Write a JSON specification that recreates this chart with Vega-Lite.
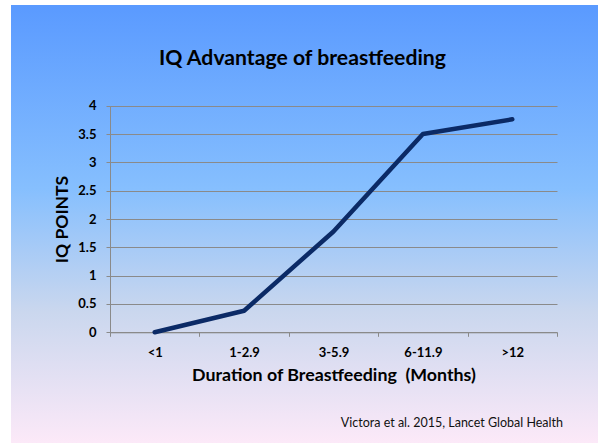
{
  "$schema": "https://vega.github.io/schema/vega-lite/v6.json",
  "width": 587,
  "height": 438,
  "autosize": "none",
  "padding": {"left": 11, "top": 5, "right": 0, "bottom": 0},
  "background": "#ffffff",
  "config": {
    "view": {
      "stroke": null,
      "fill": {
        "gradient": "linear", "x1": 0, "y1": 0, "x2": 0, "y2": 1,
        "stops": [
          {"offset": 0, "color": "#5a9aff"},
          {"offset": 0.42, "color": "#86bffe"},
          {"offset": 0.7, "color": "#cad7ee"},
          {"offset": 1, "color": "#fce9f8"}
        ]
      }
    }
  },
  "title": {
    "text": "IQ Advantage of breastfeeding",
    "font": "Lato",
    "fontSize": 21.2,
    "fontWeight": "bold",
    "color": "#000000",
    "anchor": "middle",
    "frame": "group",
    "baseline": "alphabetic",
    "offset": -82,
    "dx": -2
  },
  "data": {
    "values": [
      {"duration": "<1", "iq": 0},
      {"duration": "1-2.9", "iq": 0.38},
      {"duration": "3-5.9", "iq": 1.78},
      {"duration": "6-11.9", "iq": 3.5},
      {"duration": ">12", "iq": 3.76}
    ]
  },
  "layer": [
    {
      "data": {"values": [{}]},
      "mark": {"type": "rule", "x": 0, "y": 0, "y2": "height", "color": "#000000", "strokeWidth": 2.2},
      "encoding": {}
    },
    {
      "data": {"values": [{}]},
      "mark": {"type": "rule", "x": 0, "x2": "width", "y": 0, "color": "#000000", "strokeWidth": 2.4},
      "encoding": {}
    },
    {
      "data": {"values": [{}]},
      "mark": {
        "type": "text",
        "text": "Victora et al. 2015, Lancet Global Health",
        "x": "width",
        "y": "height",
        "dx": -35,
        "dy": -15.7,
        "align": "right",
        "baseline": "alphabetic",
        "font": "Lato",
        "fontSize": 12.5,
        "color": "#111111"
      },
      "encoding": {}
    },
    {
      "mark": {"type": "line", "color": "#0b2a66", "strokeWidth": 4.5, "strokeJoin": "round", "strokeCap": "round"},
      "encoding": {
        "x": {
          "field": "duration",
          "type": "ordinal",
          "sort": null,
          "scale": {"type": "band", "range": [99, 546], "paddingInner": 0, "paddingOuter": 0},
          "axis": {
            "title": "Duration of Breastfeeding\u00a0 (Months)",
            "offset": -110.7,
            "labelAngle": 0,
            "labelFont": "Lato",
            "labelFontSize": 13,
            "labelFontWeight": "bold",
            "labelColor": "#000000",
            "labelPadding": 10,
            "tickSize": 4,
            "tickBand": "extent",
            "tickColor": "#8a8a8a",
            "domainColor": "#8a8a8a",
            "grid": false,
            "titleFont": "Lato",
            "titleFontSize": 17.8,
            "titleFontWeight": "bold",
            "titleColor": "#000000",
            "titlePadding": 7
          }
        },
        "y": {
          "field": "iq",
          "type": "quantitative",
          "scale": {"domain": [0, 4], "range": [327.3, 100.7], "nice": false, "zero": true},
          "axis": {
            "title": "IQ POINTS",
            "offset": -99,
            "values": [0, 0.5, 1, 1.5, 2, 2.5, 3, 3.5, 4],
            "format": "~g",
            "labelFont": "Lato",
            "labelFontSize": 13,
            "labelFontWeight": "bold",
            "labelColor": "#000000",
            "labelPadding": 10,
            "tickSize": 4,
            "tickColor": "#8a8a8a",
            "domainColor": "#8a8a8a",
            "grid": true,
            "gridColor": "#8a8a8a",
            "gridWidth": 1,
            "gridOpacity": 1,
            "titleFont": "Lato",
            "titleFontSize": 17.5,
            "titleFontWeight": "bold",
            "titleColor": "#000000",
            "titlePadding": 6.5
          }
        }
      }
    }
  ]
}
